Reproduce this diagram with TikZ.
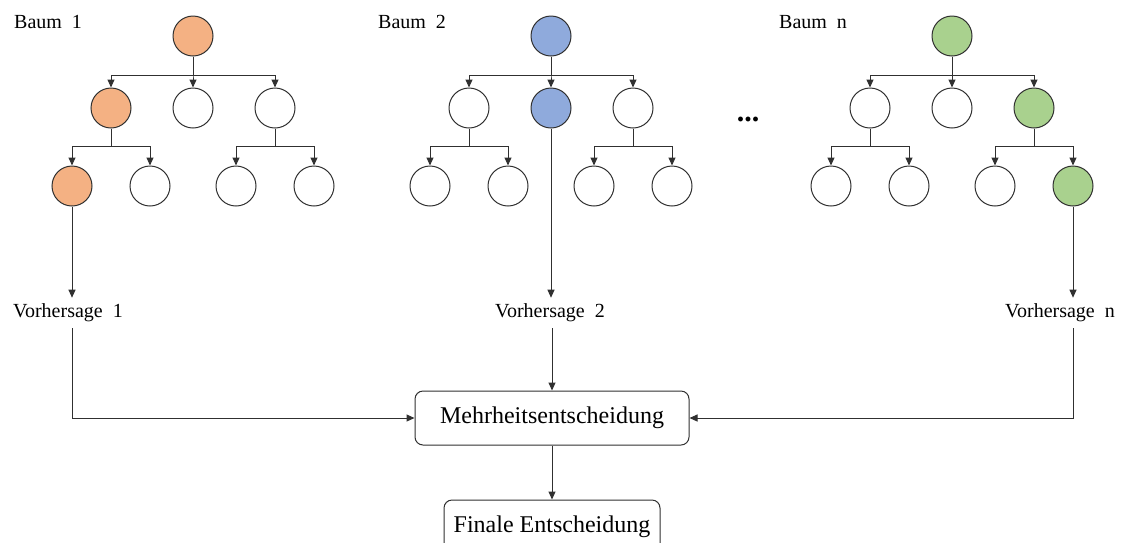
\documentclass[tikz,border=0pt]{standalone}
\usepackage{fontspec}
\setmainfont{Liberation Serif}
\usetikzlibrary{positioning, arrows.meta}
\usepackage{xcolor}
\definecolor{baumorange}{HTML}{F4B183}
\definecolor{baumblue}{HTML}{8FAADC}
\definecolor{baumgreen}{HTML}{A9D18E}
\definecolor{kante}{HTML}{303030}

\begin{document}
\begin{tikzpicture}[x=1pt, y=-1pt,
    every node/.style={font=\fontsize{20}{24}\selectfont},
    knoten/.style={circle, draw=kante, line width=1pt, minimum size=40pt, inner sep=0pt},
    pfeil/.style={draw=kante, line width=1pt, -{Triangle[length=8pt, width=7pt]}},
    kasten/.style={draw=kante, line width=1pt, rounded corners=8pt, minimum height=54pt,
                   font=\fontsize{24}{28}\selectfont}]
  \useasboundingbox (0,0) rectangle (1123,542);

  % drei Entscheidungsbaeume
  \foreach \t/\rx/\c/\fa/\fb/\fc/\faa/\fcb in
      {1/193/baumorange/baumorange/white/white/baumorange/white,
       2/551/baumblue/white/baumblue/white/white/white,
       n/952/baumgreen/white/white/baumgreen/white/baumgreen} {
    \node[knoten, fill=\c] (r\t) at (\rx,36) {};
    \node[knoten, fill=\fa] (a\t) at (\rx-82,108) {};
    \node[knoten, fill=\fb] (b\t) at (\rx,108) {};
    \node[knoten, fill=\fc] (c\t) at (\rx+82,108) {};
    \node[knoten, fill=\faa] (aa\t) at (\rx-121,186) {};
    \node[knoten, fill=white] (ab\t) at (\rx-43,186) {};
    \node[knoten, fill=white] (ca\t) at (\rx+43,186) {};
    \node[knoten, fill=\fcb] (cb\t) at (\rx+121,186) {};
    \draw[pfeil] (r\t.south) -- ++(0,19) -| (a\t.north);
    \draw[pfeil] (r\t.south) -- ++(0,19) -| (b\t.north);
    \draw[pfeil] (r\t.south) -- ++(0,19) -| (c\t.north);
    \draw[pfeil] (a\t.south) -- ++(0,18) -| (aa\t.north);
    \draw[pfeil] (a\t.south) -- ++(0,18) -| (ab\t.north);
    \draw[pfeil] (c\t.south) -- ++(0,18) -| (ca\t.north);
    \draw[pfeil] (c\t.south) -- ++(0,18) -| (cb\t.north);
  }

  \node[anchor=west, inner sep=0pt] (baum1) at (14,22) {Baum\ \ 1};
  \node[anchor=west, inner sep=0pt] (baum2) at (378,22) {Baum\ \ 2};
  \node[anchor=west, inner sep=0pt] (baumn) at (779,22) {Baum\ \ n};
  \node[font=\fontsize{30}{30}\selectfont] (punkte) at (748,119) {\textbf{...}};

  % Vorhersagen
  \node[inner sep=6pt] (v1) at (68,313) {Vorhersage\ \ 1};
  \node[inner sep=6pt] (v2) at (550,313) {Vorhersage\ \ 2};
  \node[inner sep=6pt] (vn) at (1060,313) {Vorhersage\ \ n};
  \draw[pfeil] (aa1) -- (aa1 |- v1.north);
  \draw[pfeil] (b2) -- (b2 |- v2.north);
  \draw[pfeil] (cbn) -- (cbn |- vn.north);

  % Abstimmung
  \node[kasten, minimum width=274pt] (mehr) at (552,418) {Mehrheitsentscheidung};
  \node[kasten, minimum width=216pt] (fin) at (552,527) {Finale Entscheidung};
  \draw[pfeil] (v1.south -| aa1) |- (mehr.west);
  \draw[pfeil] (v2.south -| mehr.north) -- (mehr.north);
  \draw[pfeil] (vn.south -| cbn) |- (mehr.east);
  \draw[pfeil] (mehr) -- (fin);
\end{tikzpicture}
\end{document}
